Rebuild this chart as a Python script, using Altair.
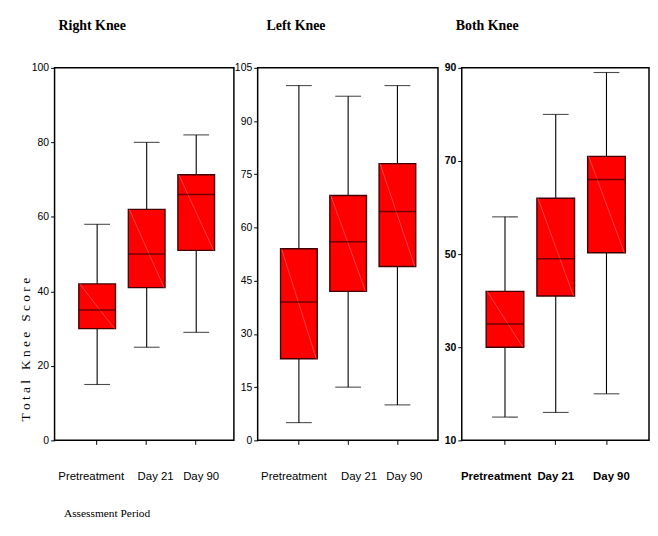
import altair as alt
import pandas as pd

categories = ["Pretreatment", "Day 21", "Day 90"]

right_lower = [15, 25, 29]
right_q1 = [30, 41, 51]
right_median = [35, 50, 66]
right_q3 = [42, 62, 71.3]
right_upper = [58, 80, 82]

left_lower = [5, 15, 10]
left_q1 = [23, 42, 49]
left_median = [39, 56, 64.5]
left_q3 = [54, 69, 78]
left_upper = [100, 97, 100]

both_lower = [15, 16, 20]
both_q1 = [30, 41, 50.3]
both_median = [35, 49, 66]
both_q3 = [42, 62, 71]
both_upper = [58, 80, 89]

right_ticks = [0, 20, 40, 60, 80, 100]
left_ticks = [0, 15, 30, 45, 60, 75, 90, 105]
both_ticks = [10, 30, 50, 70, 90]

SANS = "Liberation Sans"
SERIF = "Liberation Serif"
NB = "\u00a0"
Y_TITLE = (NB.join("Total") + NB * 3 + NB.join("Knee") + NB * 3 + NB.join("Score"))


def panel(title, lower, q1, med, q3, upper, domain, ticks, width, pad_outer,
          align, bold, first, title_dx, box_w, offs):
    df = pd.DataFrame({"period": categories, "lower": lower, "q1": q1,
                       "median": med, "q3": q3, "upper": upper})
    weight = "bold" if bold else "normal"
    label_offset = {
        "condition": [
            {"test": "datum.value === 'Pretreatment'", "value": offs[0]},
            {"test": "datum.value === 'Day 21'", "value": offs[1]},
        ],
        "value": offs[2],
    }
    x_axis = alt.Axis(
        title="Assessment Period" if first else None,
        labelAngle=0, labelFont=SANS, labelFontSize=11.5, labelColor="black",
        labelFontWeight=weight, labelPadding=26, tickSize=4, tickColor="black",
        labelOffset=label_offset, domain=False, grid=False,
        **({"titleFont": SERIF, "titleFontSize": 11.5, "titleFontWeight": "normal",
            "titleX": 9, "titleY": 74, "titleAlign": "left",
            "titleBaseline": "middle", "titleColor": "black"} if first else {}),
    )
    xenc = alt.X("period:N", sort=categories,
                 scale=alt.Scale(paddingInner=0, paddingOuter=pad_outer, align=align),
                 axis=x_axis)
    y_axis = alt.Axis(
        values=ticks, labelFont=SANS, labelFontSize=10.5, labelColor="black",
        labelFontWeight=weight, tickSize=4, tickColor="black", labelPadding=2,
        domain=False, grid=False,
        title=Y_TITLE if first else None,
        **({"titleFont": SERIF, "titleFontSize": 13.5, "titleFontWeight": "normal",
            "titleX": -29, "titleY": 284, "titleBaseline": "middle",
            "titleColor": "black"} if first else {}),
    )
    yscale = alt.Scale(domain=domain, nice=False, zero=False)
    base = alt.Chart(df)
    whisker = base.mark_rule(color="black", strokeWidth=1.1).encode(
        x=xenc, y=alt.Y("lower:Q", scale=yscale, axis=y_axis), y2="upper:Q")
    box = base.mark_bar(size=box_w, color="#ff0000", stroke="#400000",
                        strokeWidth=1.4).encode(
        x=xenc, y=alt.Y("q1:Q", scale=yscale), y2="q3:Q")
    diag = base.mark_rule(color="#ff7070", strokeWidth=0.6,
                          xOffset=-box_w / 2 + 1, x2Offset=box_w / 2 - 1).encode(
        x=xenc, x2="period:N", y=alt.Y("q3:Q", scale=yscale), y2="q1:Q")
    cap_lo = base.mark_tick(color="black", size=26, thickness=1.1).encode(
        x=xenc, y=alt.Y("lower:Q", scale=yscale))
    cap_hi = base.mark_tick(color="black", size=26, thickness=1.1).encode(
        x=xenc, y=alt.Y("upper:Q", scale=yscale))
    median = base.mark_tick(color="#300000", size=box_w, thickness=1.5).encode(
        x=xenc, y=alt.Y("median:Q", scale=yscale))
    return alt.layer(whisker, box, diag, median, cap_lo, cap_hi).properties(
        width=width, height=376,
        title=alt.TitleParams(title, anchor="start", frame="group", dx=title_dx,
                              offset=30, font=SERIF, fontSize=14,
                              fontWeight="bold", color="black"))


p1 = panel("Right Knee", right_lower, right_q1, right_median, right_q3, right_upper,
           [0, 100], right_ticks, 181, 0.31, 0.58, False, True, 4, 37, [-6, 9, 5])
p2 = panel("Left Knee", left_lower, left_q1, left_median, left_q3, left_upper,
           [0, 105], left_ticks, 182, 0.33, 0.51, False, False, 9, 37, [-5, 11, 7])
p3 = panel("Both Knee", both_lower, both_q1, both_median, both_q3, both_upper,
           [10, 90], both_ticks, 189, 0.345, 0.51, True, False, -6, 38, [-9, 0, 5])

chart = alt.hconcat(p1, p2, p3, spacing=24, bounds="flush").resolve_scale(
    y="independent", x="independent").properties(
    padding={"left": 10, "top": 8, "right": 0, "bottom": 0}
).configure_view(stroke="black", strokeWidth=1.5)

chart.save("out.html", embed_options={"renderer": "svg", "actions": False})
